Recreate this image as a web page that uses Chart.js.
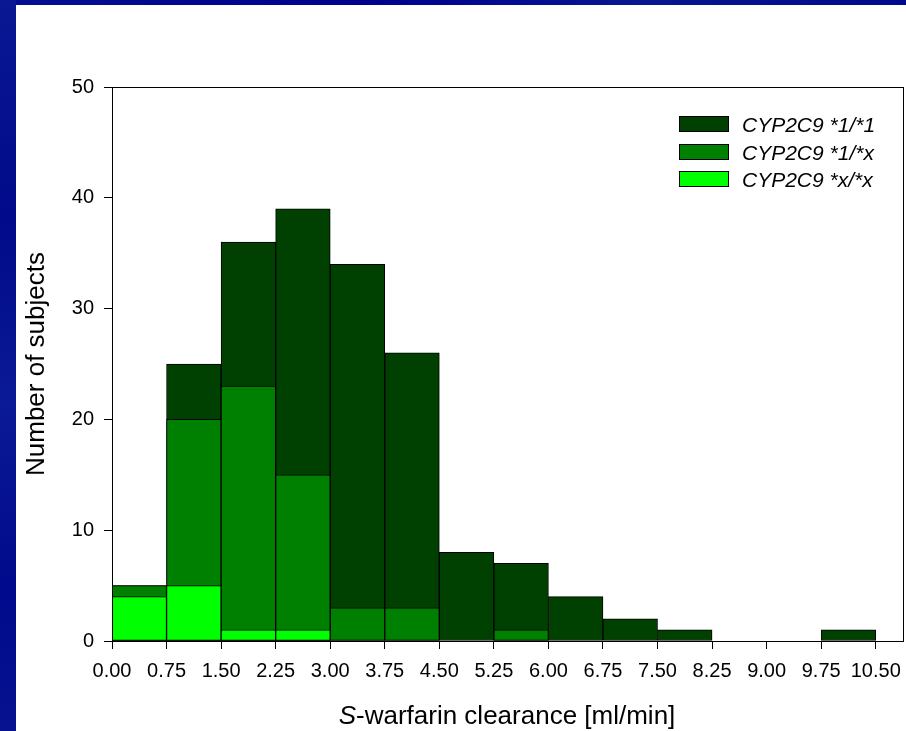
<!DOCTYPE html>
<html>
<head>
<meta charset="utf-8">
<title>S-warfarin clearance histogram</title>
<script src="https://cdn.jsdelivr.net/npm/chart.js@4.4.1/dist/chart.umd.min.js"></script>
<style>
  html, body { margin: 0; padding: 0; }
  body {
    width: 906px; height: 731px; position: relative; overflow: hidden;
    background: #fff; font-family: "Liberation Sans", Arial, sans-serif;
  }
  .band-top { position: absolute; left: 0; top: 0; width: 906px; height: 5px;
    background: linear-gradient(90deg, #050f8f, #00008c 40%, #081690 70%, #000a8a); }
  .band-left { position: absolute; left: 0; top: 0; width: 16px; height: 731px;
    background: linear-gradient(180deg, #0a1894, #000a8a 30%, #0b1a96 55%, #000a8c 80%, #061290); }
  #wrap { position: absolute; left: 0; top: 0; width: 906px; height: 731px; }
  .legend-row { position: absolute; left: 679px; height: 24px; }
  .legend-box { position: absolute; left: 0; width: 50px; height: 16px; box-sizing: border-box;
    border: 1px solid #000; }
  .legend-text { position: absolute; left: 63px; white-space: nowrap; font-style: italic;
    font-size: 21px; line-height: 24px; color: #000; }
  .x-title { position: absolute; left: 112px; width: 790px; top: 700px; text-align: center;
    font-size: 26px; line-height: 30px; color: #000; white-space: nowrap; }
</style>
</head>
<body>
<div class="band-top"></div>
<div class="band-left"></div>
<div id="wrap"><canvas id="histChart" width="906" height="731"></canvas></div>
<div id="legend"></div>
<div class="x-title"><i>S</i>-warfarin clearance [ml/min]</div>

<script>
// bin edges of the clearance histogram (also the x tick labels)
const binEdges = [0, 0.75, 1.5, 2.25, 3, 3.75, 4.5, 5.25, 6, 6.75, 7.5, 8.25, 9, 9.75, 10.5];

// counts per bin, bars are drawn on top of each other (not stacked)
const seriesNames = ['CYP2C9 *1/*1', 'CYP2C9 *1/*x', 'CYP2C9 *x/*x'];
const countsWild = [5, 25, 36, 39, 34, 26, 8, 7, 4, 2, 1, 0, 0, 1];
const countsHet = [5, 20, 23, 15, 3, 3, 0, 1, 0, 0, 0, 0, 0, 0];
const countsHom = [4, 5, 1, 1, 0, 0, 0, 0, 0, 0, 0, 0, 0, 0];

const yTicks = [0, 10, 20, 30, 40, 50];

const colors = ['#004000', '#008000', '#00ff00'];

document.addEventListener('DOMContentLoaded', () => {
  const toPoints = counts => counts.map((c, i) => ({ x: (binEdges[i] + binEdges[i + 1]) / 2, y: c }));
  const allCounts = [countsWild, countsHet, countsHom];

  const frame = {
    id: 'frame',
    afterDraw(chart) {
      const { ctx, chartArea: a } = chart;
      ctx.save();
      ctx.strokeStyle = '#000';
      ctx.lineWidth = 1;
      ctx.strokeRect(Math.round(a.left) + 0.5, Math.round(a.top) + 0.5,
        Math.round(a.right - a.left), Math.round(a.bottom - a.top));
      ctx.restore();
    }
  };

  const ctx = document.getElementById('histChart').getContext('2d');
  new Chart(ctx, {
    type: 'bar',
    data: {
      datasets: allCounts.map((counts, i) => ({
        label: seriesNames[i],
        data: toPoints(counts),
        backgroundColor: colors[i],
        borderColor: '#000',
        borderWidth: 1,
        borderSkipped: false,
        order: 3 - i,
        grouped: false,
        barPercentage: 1,
        categoryPercentage: 1,
      })),
    },
    options: {
      responsive: false,
      animation: false,
      layout: { padding: { left: 17, top: 87, right: 3, bottom: 0 } },
      plugins: {
        legend: { display: false },
        tooltip: { enabled: false },
      },
      scales: {
        x: {
          type: 'linear',
          offset: false,
          min: 0,
          max: 10.875,
          afterFit: s => { s.height = 90; s.paddingLeft = 0; s.paddingRight = 0; },
          border: { display: true, color: '#000', width: 1 },
          grid: { offset: false, drawOnChartArea: false, drawTicks: true, tickLength: 8, color: '#000' },
          ticks: {
            stepSize: 0.75,
            includeBounds: false,
            autoSkip: false,
            maxRotation: 0,
            padding: 10,
            color: '#000',
            font: { family: 'Liberation Sans, Arial', size: 20 },
            callback: v => binEdges.includes(v) ? v.toFixed(2) : '',
          },
        },
        y: {
          min: yTicks[0],
          max: yTicks[yTicks.length - 1],
          afterFit: s => { s.width = 95; },
          border: { display: true, color: '#000', width: 1 },
          grid: { drawOnChartArea: false, drawTicks: true, tickLength: 8, color: '#000' },
          ticks: {
            stepSize: 10,
            padding: 10,
            color: '#000',
            font: { family: 'Liberation Sans, Arial', size: 20 },
          },
          title: {
            display: true,
            text: 'Number of subjects',
            color: '#000',
            font: { family: 'Liberation Sans, Arial', size: 26 },
          },
        },
      },
    },
    plugins: [frame],
  });

  // legend inside the plot, top right
  const legend = document.getElementById('legend');
  const rowCenters = [124, 151.5, 179];
  seriesNames.forEach((name, i) => {
    const row = document.createElement('div');
    row.className = 'legend-row';
    row.style.top = (rowCenters[i] - 12) + 'px';
    row.innerHTML = `<span class="legend-box" style="top:4px;background:${colors[i]}"></span>` +
      `<span class="legend-text" style="top:1px">${name}</span>`;
    legend.appendChild(row);
  });
});
</script>
</body>
</html>
